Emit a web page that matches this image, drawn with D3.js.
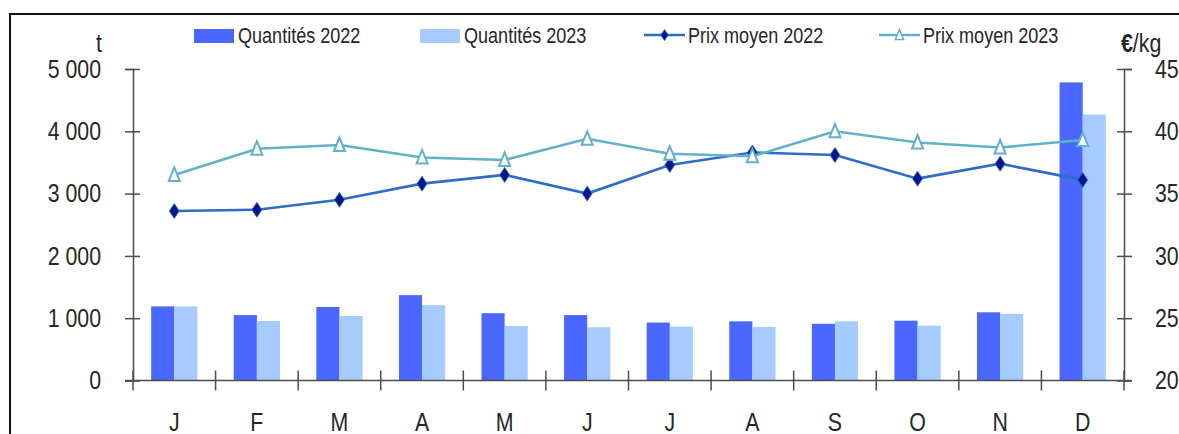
<!DOCTYPE html>
<html>
<head>
<meta charset="utf-8">
<script src="https://cdn.jsdelivr.net/npm/d3@7"></script>
<style>
  body { margin: 0; background: #fff; }
  text { font-family: "Liberation Sans", Arial, sans-serif; fill: #262626; }
</style>
</head>
<body>
<script>
const months = ['J', 'F', 'M', 'A', 'M', 'J', 'J', 'A', 'S', 'O', 'N', 'D'];
const qty2022 = [1190, 1050, 1180, 1370, 1080, 1050, 930, 950, 910, 960, 1095, 4785];
const qty2023 = [1190, 955, 1035, 1210, 875, 855, 865, 860, 950, 880, 1070, 4270];
const prix2022 = [33.6, 33.7, 34.5, 35.8, 36.5, 35.0, 37.3, 38.3, 38.1, 36.2, 37.4, 36.1];
const prix2023 = [36.5, 38.6, 38.9, 37.9, 37.7, 39.4, 38.2, 38.0, 40.0, 39.1, 38.7, 39.3];
const leftTicks = [0, 1000, 2000, 3000, 4000, 5000];
const rightTicks = [20, 25, 30, 35, 40, 45];

const width = 1179, height = 434;
const plot = { left: 133, right: 1124, top: 69, bottom: 380.5 };

const c22 = '#4a68ff', c23 = '#a6cbff';
const line22 = '#2e6cc8', mark22 = '#04168a', line23 = '#62b1c8';

const svg = d3.select('body').append('svg')
  .attr('width', width)
  .attr('height', height);

// frame
svg.append('path')
  .attr('d', `M${width},14 H10 V${height}`)
  .attr('fill', 'none')
  .attr('stroke', '#111')
  .attr('stroke-width', 2);

const idx = months.map((m, i) => i);
const x = d3.scaleBand().domain(idx).range([plot.left, plot.right]);
const yL = d3.scaleLinear().domain([0, 5000]).range([plot.bottom, plot.top]);
const yR = d3.scaleLinear().domain([20, 45]).range([plot.bottom, plot.top]);
const sub = d3.scaleBand().domain(['2022', '2023']).range([0, x.bandwidth() * 0.56]);
const cx = i => x(i) + x.bandwidth() / 2;

const fmt = d3.formatLocale({ decimal: ',', thousands: ' ', grouping: [3], currency: ['', '€'] }).format(',');

// bars
const rows = idx.map(i => ({ i, v: [{ k: '2022', v: qty2022[i] }, { k: '2023', v: qty2023[i] }] }));
svg.selectAll('g.grp')
  .data(rows)
  .join('g')
  .attr('class', 'grp')
  .attr('transform', d => `translate(${cx(d.i) - sub.range()[1] / 2},0)`)
  .selectAll('rect')
  .data(d => d.v)
  .join('rect')
  .attr('x', d => sub(d.k))
  .attr('width', sub.bandwidth())
  .attr('y', d => yL(d.v))
  .attr('height', d => yL(0) - yL(d.v))
  .attr('fill', d => d.k === '2022' ? c22 : c23);

// axes
const axisColor = '#4d4d4d';

const gl = svg.append('g')
  .attr('transform', `translate(${plot.left},0)`)
  .call(d3.axisLeft(yL).tickValues(leftTicks).tickFormat(fmt).tickSize(8).tickPadding(24));
gl.selectAll('.tick line').attr('x2', -8).attr('x1', 7);

const gr = svg.append('g')
  .attr('transform', `translate(${plot.right},0)`)
  .call(d3.axisRight(yR).tickValues(rightTicks).tickSize(8).tickPadding(23));
gr.selectAll('.tick line').attr('x2', 8).attr('x1', -7);

[gl, gr].forEach(g => {
  g.select('.domain').attr('stroke', axisColor).attr('stroke-width', 1.5);
  g.selectAll('.tick line').attr('stroke', axisColor).attr('stroke-width', 1.5);
  g.selectAll('.tick text').style('font-size', '26px').attr('fill', '#262626');
});

// x axis
const gx = svg.append('g')
  .attr('transform', `translate(0,${plot.bottom})`)
  .call(d3.axisBottom(x).tickFormat(i => months[i]).tickSize(0).tickPadding(32));
gx.select('.domain').attr('d', `M${plot.left - 8},0 H${plot.right + 7}`)
  .attr('stroke', axisColor).attr('stroke-width', 1.5);
gx.selectAll('.tick text').style('font-size', '26px').attr('fill', '#262626');

const bounds = idx.map(i => x(i)).concat([x.range()[1]]);
gx.selectAll('line.sep')
  .data(bounds)
  .join('line')
  .attr('class', 'sep')
  .attr('x1', d => d).attr('x2', d => d)
  .attr('y1', -10).attr('y2', 10)
  .attr('stroke', axisColor)
  .attr('stroke-width', 1.5);

// unit labels
svg.append('text').attr('x', 99).attr('y', 52).attr('text-anchor', 'middle')
  .style('font-size', '26px').text('t');
const eu = svg.append('text').attr('x', 1121).attr('y', 52).style('font-size', '26px');
eu.append('tspan').style('font-weight', 'bold').text('€');
eu.append('tspan').text('/kg');

// lines
const lineGen = arr => d3.line().x((d, i) => cx(i)).y(d => yR(d))(arr);

svg.append('path')
  .attr('d', lineGen(prix2022))
  .attr('fill', 'none')
  .attr('stroke', line22)
  .attr('stroke-width', 2.6);

svg.append('path')
  .attr('d', lineGen(prix2023))
  .attr('fill', 'none')
  .attr('stroke', line23)
  .attr('stroke-width', 2.6);

const diamond = 'M0,-7.5 L5,0 L0,7.5 L-5,0 Z';
const tri = 'M0,-7.5 L5.5,6 L-5.5,6 Z';

svg.selectAll('path.m22')
  .data(prix2022)
  .join('path')
  .attr('class', 'm22')
  .attr('d', diamond)
  .attr('transform', (d, i) => `translate(${cx(i)},${yR(d)})`)
  .attr('fill', mark22)
  .attr('stroke', line22)
  .attr('stroke-width', 0.8);

svg.selectAll('path.m23')
  .data(prix2023)
  .join('path')
  .attr('class', 'm23')
  .attr('d', tri)
  .attr('transform', (d, i) => `translate(${cx(i)},${yR(d)})`)
  .attr('fill', '#fff')
  .attr('stroke', line23)
  .attr('stroke-width', 2);

// legend
const lg = svg.append('g');
const legendItems = [
  { name: 'Quantités 2022', type: 'bar', color: c22, x: 194 },
  { name: 'Quantités 2023', type: 'bar', color: c23, x: 420 },
  { name: 'Prix moyen 2022', type: 'l22', x: 644 },
  { name: 'Prix moyen 2023', type: 'l23', x: 879 }
];
legendItems.forEach(it => {
  const g = lg.append('g').attr('transform', `translate(${it.x},0)`);
  if (it.type === 'bar') {
    g.append('rect').attr('x', 0).attr('y', 29).attr('width', 40).attr('height', 14).attr('fill', it.color);
  } else {
    const lc = it.type === 'l22' ? line22 : line23;
    g.append('line').attr('x1', 0).attr('x2', 41).attr('y1', 35).attr('y2', 35)
      .attr('stroke', lc).attr('stroke-width', 2.5);
    g.append('path')
      .attr('d', it.type === 'l22' ? diamond : tri)
      .attr('transform', 'translate(20.5,35) scale(0.75)')
      .attr('fill', it.type === 'l22' ? mark22 : '#fff')
      .attr('stroke', lc)
      .attr('stroke-width', it.type === 'l22' ? 0.8 : 2);
  }
  g.append('text').attr('x', 44).attr('y', 43).style('font-size', '22px').text(it.name);
});

// narrow the type, the original uses a condensed face
svg.selectAll('text').each(function () {
  const w = this.getComputedTextLength();
  if (w > 0) {
    d3.select(this).attr('textLength', w * 0.82).attr('lengthAdjust', 'spacingAndGlyphs');
  }
});
</script>
</body>
</html>
